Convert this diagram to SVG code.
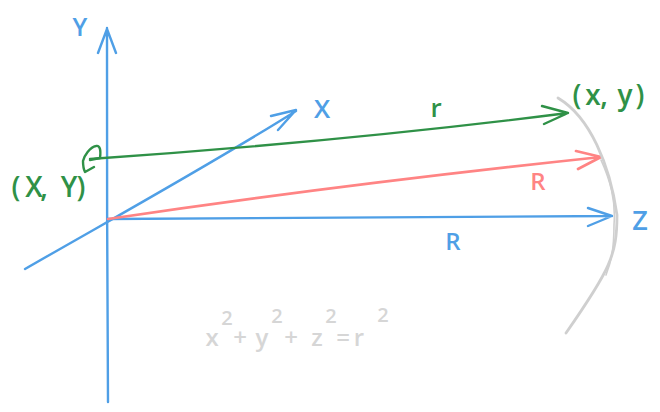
<svg xmlns="http://www.w3.org/2000/svg" width="660" height="412" viewBox="0 0 660 412">
<style>
.l{fill:none;stroke-linecap:round;stroke-linejoin:round;stroke-width:2.4}
.b{stroke:#4f9fe6}.g{stroke:#2f9147}.r{stroke:#ff8484}.c{stroke:#cfcfcf;stroke-width:2.8}
text{font-family:"Open Sans","Liberation Sans",sans-serif;font-size:24px;font-weight:600;text-anchor:middle}
.tb{fill:#4f9fe6}.tg{fill:#2f9147}.tr{fill:#ff8484}.tc{fill:#d6d6d6}
.s{font-size:20px}
</style>
<rect width="660" height="412" fill="#fff"/>
<g id="connectors">
<path class="l b" d="M108 402C107 300 107 130 107 28M98 53L107 29L116 53"/>
<path class="l b" d="M25 269C110 220 210 165 296 111M271 116L296 110L278 130"/>
<path class="l b" d="M108 219C280 218.500 450 217 612 216M588 208L612 216L588 226"/>
<path class="l r" d="M108 219C270 195 440 174 601 157M576 151L601 157L578 169" style="stroke-width:2.7"/>
<path class="l g" d="M90 159C250 148 410 133 568 113M542 106L568 113L544 124"/>
</g>
<g id="sphere">
<path class="l c" d="M558 98C590 117 610 165 617 215C617 255 610 270 566 333"/>
<path class="l c" style="stroke-width:1.6" d="M601 160C610 180 616 200 614 225C614 250 611 262 606 275"/>
</g>
<g id="plane-point">
<path class="l g" d="M90 160L100 158C101 150 100 145 96 146C90 147 84 156 83 161C83 166 84 170 85 172L94 167"/>
<text class="tg" style="font-size:28px" y="197" x="16 34 44 69 81">(X,Y)</text>
</g>
<g id="image-point"><text class="tg" style="font-size:28px" y="105" x="577 593 604 625 640">(x,y)</text></g>
<g id="axis-y"><text class="tb" style="font-size:25px" x="80" y="36">Y</text></g>
<g id="axis-x"><text class="tb" style="font-size:26px" x="322" y="118">X</text></g>
<g id="axis-z"><text class="tb" style="font-size:27px" x="640" y="230">Z</text></g>
<g id="label-r"><text class="tg" style="font-size:26px" x="436" y="117">r</text></g>
<g id="label-R-red"><text class="tr" style="font-size:24px" x="538" y="190">R</text></g>
<g id="label-R-blue"><text class="tb" style="font-size:24px" x="453" y="250">R</text></g>
<g id="equation">
<text class="tc"><tspan x="212" y="346">x</tspan><tspan class="s" x="227" y="325">2</tspan><tspan x="240" y="346">+</tspan><tspan x="262" y="346">y</tspan><tspan class="s" x="277" y="323">2</tspan><tspan x="291" y="346">+</tspan><tspan x="317" y="346">z</tspan><tspan class="s" x="331" y="323">2</tspan><tspan x="343" y="346">=</tspan><tspan x="359" y="346">r</tspan><tspan class="s" x="383" y="322">2</tspan></text>
</g>
</svg>
